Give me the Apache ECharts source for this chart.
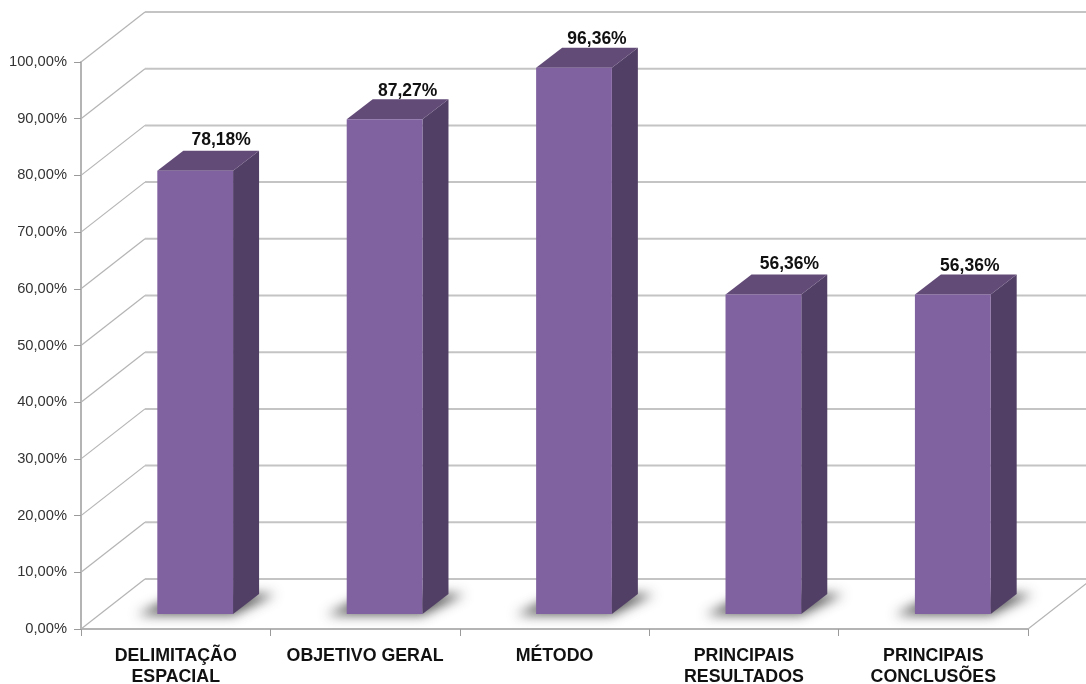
<!DOCTYPE html>
<html>
<head>
<meta charset="utf-8">
<style>html,body{margin:0;padding:0;background:#fff}#c{width:1086px;height:684px}</style>
<script src="https://cdn.jsdelivr.net/npm/echarts@6/dist/echarts.min.js"></script>
</head>
<body>
<div id="c"></div>
<script>
const categories = ['DELIMITAÇÃO\nESPACIAL', 'OBJETIVO GERAL', 'MÉTODO', 'PRINCIPAIS\nRESULTADOS', 'PRINCIPAIS\nCONCLUSÕES'];
const values = [78.18, 87.27, 96.36, 56.36, 56.36];
const gridTicks = [0, 10, 20, 30, 40, 50, 60, 70, 80, 90, 100];

const WALL_DX = 64, WALL_DY = -50;
const LABEL_NUDGE_X = [0, -3, -3, 0, -9];
const LABEL_NUDGE_Y = [1, 4, 4, 2, 4];
const OFF = 3000;
const fmt = v => v.toFixed(2).replace('.', ',') + '%';
const chart = echarts.init(document.getElementById('c'), null, {renderer: 'canvas'});

function renderWall(params, api) {
  const cs = params.coordSys;
  const y = api.coord([0, api.value(1)])[1];
  const x0 = cs.x, x1 = cs.x + cs.width;
  const children = [
    {type: 'line', shape: {x1: x0, y1: y, x2: x0 + WALL_DX, y2: y + WALL_DY}, style: {stroke: '#b4b4b4', lineWidth: 1.2}},
    {type: 'line', shape: {x1: x0 + WALL_DX, y1: y + WALL_DY, x2: x1 + WALL_DX, y2: y + WALL_DY}, style: {stroke: '#c4c4c4', lineWidth: 2}}
  ];
  if (api.value(1) === 0) {
    children.push({type: 'line', shape: {x1: x1, y1: y, x2: x1 + WALL_DX, y2: y + WALL_DY}, style: {stroke: '#b4b4b4', lineWidth: 1.2}});
  }
  return {type: 'group', children};
}

function renderShadow(params, api) {
  const base = api.coord([api.value(0), 0]);
  const w = api.size([1, 0])[0] * 0.4;
  const x0 = base[0] + 19.5 - w / 2, x1 = x0 + w, yb = base[1] - 15;
  const pts = [[x0 - 20, yb + 1], [x1, yb + 1], [x1 + 42, yb - 20], [x0 + 22, yb - 20]];
  return {
    type: 'polygon',
    shape: {points: pts.map(p => [p[0] - OFF, p[1]])},
    style: {fill: '#000', shadowBlur: 12, shadowOffsetX: OFF, shadowColor: 'rgba(70,70,70,0.9)'}
  };
}

function renderBar(params, api) {
  const i = api.value(0);
  const top = api.coord([i, api.value(1)]);
  const base = api.coord([i, 0]);
  const w = api.size([1, 0])[0] * 0.4;
  const dx = 26, dy = -20;
  const x0 = top[0] + 19.5 - w / 2, x1 = x0 + w, yt = top[1] - 15, yb = base[1] - 15;
  return {
    type: 'group',
    children: [
      {type: 'polygon', shape: {points: [[x1, yt], [x1 + dx, yt + dy], [x1 + dx, yb + dy], [x1, yb]]}, style: {fill: '#523f66'}},
      {type: 'polygon', shape: {points: [[x0, yt], [x0 + dx, yt + dy], [x1 + dx, yt + dy], [x1, yt]]}, style: {fill: '#634b78'}},
      {type: 'rect', shape: {x: x0, y: yt, width: w, height: yb - yt}, style: {fill: '#8162a0'}},
      {type: 'text', x: (x0 + x1) / 2 + 26 + LABEL_NUDGE_X[i], y: yt + dy - 12 + LABEL_NUDGE_Y[i], style: {
        text: fmt(api.value(1)), fill: '#111', align: 'center', verticalAlign: 'middle',
        font: 'bold 17.5px "Liberation Sans", Arial, sans-serif'
      }}
    ]
  };
}

chart.setOption({
  animation: false,
  backgroundColor: '#ffffff',
  grid: {left: 81, right: 58, top: 62, bottom: 55, containLabel: false, outerBoundsMode: 'none'},
  xAxis: {
    type: 'category', data: categories, boundaryGap: true,
    axisLine: {lineStyle: {color: '#b4b4b4', width: 2}},
    axisTick: {show: true, length: 7, lineStyle: {color: '#9a9a9a', width: 1}},
    axisLabel: {
      interval: 0, margin: 17, color: '#111', lineHeight: 21,
      fontFamily: '"Liberation Sans", Arial, sans-serif', fontWeight: 'bold', fontSize: 17.8
    }
  },
  yAxis: {
    type: 'value', min: 0, max: 100, interval: 10,
    axisLine: {show: true, lineStyle: {color: '#b4b4b4', width: 2}},
    axisTick: {show: true, length: 7, lineStyle: {color: '#9a9a9a', width: 1}},
    splitLine: {show: false},
    axisLabel: {
      formatter: fmt, margin: 14, color: '#333',
      fontFamily: '"Liberation Sans", Arial, sans-serif', fontSize: 14.7
    }
  },
  series: [
    {type: 'custom', z: 1, coordinateSystem: 'cartesian2d', clip: false, silent: true,
     data: gridTicks.map(v => [0, v]), encode: {x: 0, y: 1}, renderItem: renderWall},
    {type: 'custom', z: 2, coordinateSystem: 'cartesian2d', clip: false, silent: true,
     data: values.map((v, i) => [i, v]), encode: {x: 0, y: 1}, renderItem: renderShadow},
    {type: 'custom', z: 3, coordinateSystem: 'cartesian2d', clip: false, silent: true,
     data: values.map((v, i) => [i, v]), encode: {x: 0, y: 1}, renderItem: renderBar}
  ]
});
</script>
</body>
</html>
